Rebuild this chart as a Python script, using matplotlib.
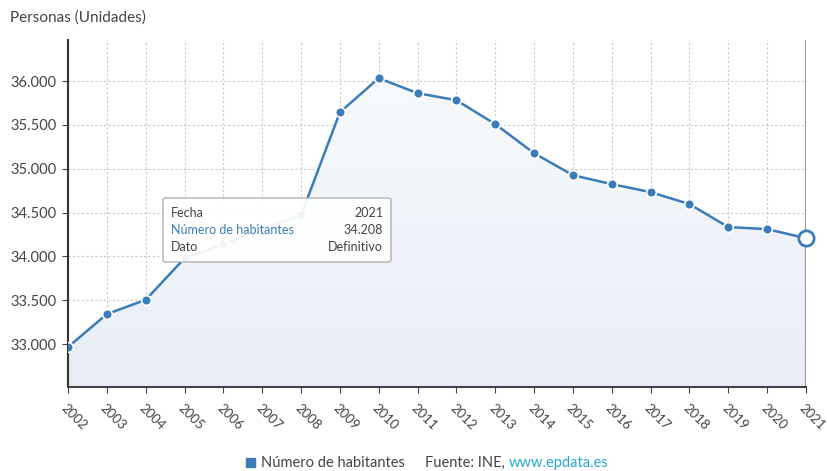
import numpy as np
import matplotlib.pyplot as plt
from matplotlib.patches import FancyBboxPatch, Polygon
from matplotlib.colors import LinearSegmentedColormap
import matplotlib.transforms as mtransforms

plt.rcParams['font.family'] = ['Lato', 'DejaVu Sans']

years = list(range(2002, 2022))
habitantes = [32966, 33342, 33505, 33979, 34137, 34320, 34470, 35645, 36034, 35863,
              35783, 35510, 35178, 34927, 34825, 34734, 34597, 34335, 34312, 34208]
yticks = [33000, 33500, 34000, 34500, 35000, 35500, 36000]
ytick_labels = ["33.000", "33.500", "34.000", "34.500", "35.000", "35.500", "36.000"]

blue = "#3b7cb8"
text_col = "#444444"

fig = plt.figure(figsize=(8.28, 4.71), dpi=100)
ax = fig.add_axes([68 / 828, 1 - 387 / 471, (806 - 68) / 828, (387 - 40) / 471])

ymin, ymax = 32510, 36470
ax.set_xlim(years[0], years[-1])
ax.set_ylim(ymin, ymax)

# gradient fill under the line
grad = np.linspace(0, 1, 256).reshape(-1, 1)
img = ax.imshow(grad, extent=[years[0], years[-1], ymin, ymax], aspect='auto',
                cmap=LinearSegmentedColormap.from_list("g", ["#e8edf6", "#f9fbfd"]),
                origin='lower', zorder=1)
poly = Polygon(list(zip(years, habitantes)) + [(years[-1], ymin), (years[0], ymin)],
               closed=True, transform=ax.transData, facecolor='none', edgecolor='none')
ax.add_patch(poly)
img.set_clip_path(poly)

ax.plot(years, habitantes, color=blue, lw=1.8, zorder=3)
ax.plot(years[:-1], habitantes[:-1], 'o', color=blue, ms=7, mec='white', mew=1.2, zorder=4)
ax.plot(years[-1], habitantes[-1], 'o', color='white', ms=11, mec=blue, mew=2, zorder=5,
        clip_on=False)
ax.axvline(years[-1], color='#999999', lw=1.5, zorder=2)

ax.set_xticks(years)
ax.set_xticklabels([str(y) for y in years], rotation=-45, ha='left', va='top',
                   rotation_mode='anchor', fontsize=9.5, color=text_col)
offset = mtransforms.ScaledTranslation(-5 / 100, 0, fig.dpi_scale_trans)
for lbl in ax.get_xticklabels():
    lbl.set_transform(lbl.get_transform() + offset)
ax.set_yticks(yticks)
ax.set_yticklabels(ytick_labels, fontsize=10.5, color=text_col)
ax.grid(True, color='#c8c8c8', linestyle=(0, (2, 2)), lw=0.8)
ax.set_axisbelow(True)
for s in ['top', 'right']:
    ax.spines[s].set_visible(False)
ax.spines['left'].set_color('#333333')
ax.spines['left'].set_linewidth(1.5)
ax.spines['bottom'].set_color('#444444')
ax.spines['bottom'].set_linewidth(1.5)
ax.tick_params(axis='both', length=4, color='#444444', pad=4)
ax.tick_params(axis='x', pad=7)

fig.text(10 / 828, 1 - 18 / 471, "Personas (Unidades)", fontsize=11, color=text_col,
         va='center', ha='left')

# tooltip
tip = FancyBboxPatch((163 / 828, 1 - 262 / 471), 228 / 828, 64 / 471,
                     boxstyle="round,pad=0,rounding_size=0.004", transform=fig.transFigure,
                     facecolor='white', edgecolor='#aaaaaa', lw=1, alpha=0.92, zorder=10)
fig.patches.append(tip)
rows = [("Fecha", "2021", text_col), ("Número de habitantes", "34.208", blue),
        ("Dato", "Definitivo", text_col)]
for i, (k, v, c) in enumerate(rows):
    yy = 1 - (213 + i * 17) / 471
    fig.text(171 / 828, yy, k, fontsize=9, color=c, va='center', zorder=11)
    fig.text(383 / 828, yy, v, fontsize=9, color=text_col, va='center', ha='right', zorder=11)

# legend / source
fig.patches.append(plt.Rectangle((246 / 828, 1 - 467 / 471), 9 / 828, 9 / 471,
                                 transform=fig.transFigure, color=blue))
fig.text(261 / 828, 1 - 463 / 471, "Número de habitantes", fontsize=10.5, color=text_col,
         va='center')
src = fig.text(425 / 828, 1 - 463 / 471, "Fuente: INE,", fontsize=10.5, color=text_col,
               va='center')
fig.canvas.draw()
bb = src.get_window_extent()
fig.text((bb.x1 + 4) / 828, 1 - 463 / 471, "www.epdata.es", fontsize=10.5,
         color="#2aa7d6", va='center')

fig.savefig("out.png", dpi=100)
